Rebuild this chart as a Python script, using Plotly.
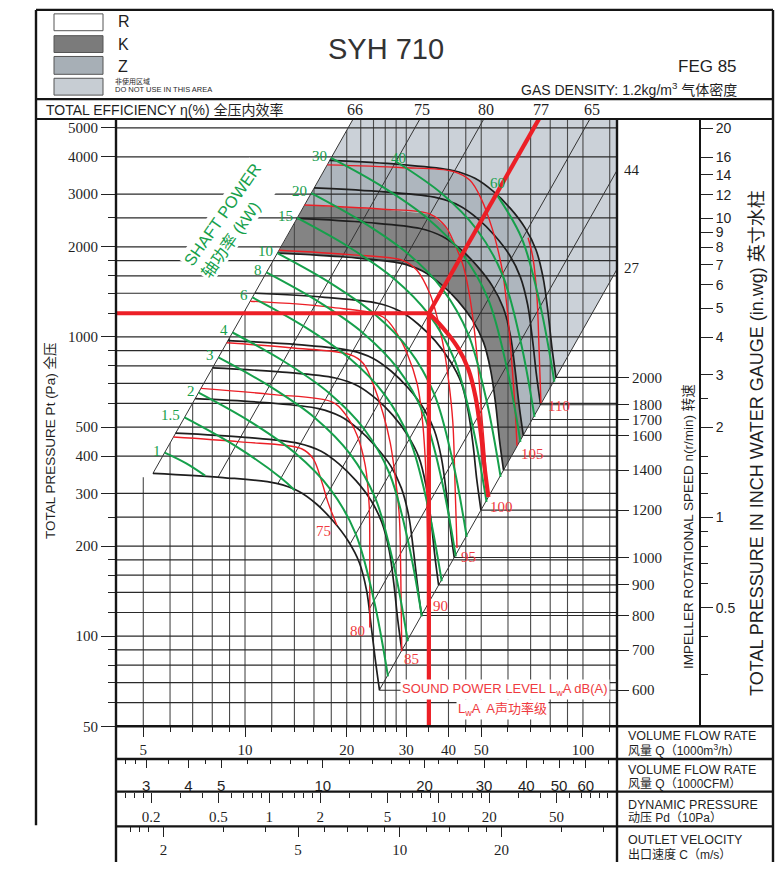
import math
import plotly.graph_objects as go

lg = math.log10

# ---------------- axis extents & scale conversions ----------------
q_lo, q_hi = 4.152, 126.1          # volume flow, 1000 m3/h
pt_lo, pt_hi = 50, 5355            # total pressure, Pa
cfm_factor = 1.699                 # 1000 m3/h per 1000 CFM
pd_q_unit = 11.8                   # Q giving Pd = 1 (10 Pa)
vel_q_unit = 2.87                  # Q giving C = 1 m/s
pa_per_inwg = 249.09
speed_ref_pt = 183.25              # Pt at end of 1000 r/min curve

# ---------------- tick values ----------------
q_major = [5, 10, 20, 30, 40, 50, 100]
q_minor = [6, 7, 8, 9, 12, 14, 16, 18, 22, 24, 26, 28, 35, 45, 60, 70, 80, 90, 120]
pt_major = [50, 100, 200, 300, 400, 500, 1000, 2000, 3000, 4000, 5000]
pt_minor = [60, 70, 80, 90, 120, 140, 160, 180, 250, 600, 700, 800, 900,
            1200, 1400, 1600, 1800, 2500]
cfm_major = [3, 4, 5, 10, 20, 30, 40, 50, 60]
cfm_minor = [2.6, 2.8, 3.5, 4.5, 6, 7, 8, 9, 12, 14, 16, 18, 22, 25, 35, 45, 55, 70]
pd_major = [0.2, 0.5, 1, 2, 5, 10, 20, 50]
pd_minor = [0.14, 0.16, 0.18, 0.3, 0.4, 0.6, 0.7, 0.8, 0.9, 1.2, 1.4, 1.6, 1.8,
            3, 4, 6, 7, 8, 9, 12, 14, 16, 18, 30, 40, 60, 70, 80, 90, 100]
vel_major = [2, 5, 10, 20]
vel_minor = [1.6, 1.7, 1.8, 3, 4, 6, 7, 8, 9, 12, 14, 16, 18, 30, 40]
inwg_major = [0.5, 1, 2, 3, 4, 5, 6, 7, 8, 9, 10, 12, 14, 16, 20]
inwg_minor = [0.3, 0.4, 0.6, 0.7, 0.8, 0.9, 1.2, 1.4, 1.6, 2.5]
speed_ticks = [600, 700, 800, 900, 1000, 1200, 1400, 1600, 1700, 1800, 2000]

# grid
grid_q = [5, 6, 7, 8, 9, 10, 12, 14, 16, 18, 20, 22, 24, 26, 28, 30, 35, 40, 45,
          50, 60, 70, 80, 90, 100, 120]
grid_pt = [60, 70, 80, 90, 100, 120, 140, 160, 180, 200, 250, 300, 400, 500, 600,
           700, 800, 900, 1000, 1200, 1400, 1600, 1800, 2000, 2500, 3000, 4000, 5000]
grid_q5_top = 340

# ---------------- efficiency lines (Pt ~ Q^2) ----------------
eff_labels = [66, 75, 80, 77, 65, 44, 27]
eff_q0 = [5.34, 8.32, 12.5, 16.67, 20.5, 23.3, 24.96]
eff_pt0 = [350, 340, 323, 270, 204, 123, 66]
eff_q1 = [20.9, 32.94, 50.9, 74.1, 104.9, 126.1, 126.1]
eff_pt1 = [5355, 5355, 5355, 5355, 5355, 3603, 1684]

# ---------------- speed curves (black) ----------------
n2000_q = [17.8, 28.7, 41.2, 47.9, 54.2, 60.8, 67.4, 72.6, 76.2, 78.8, 80.9, 83.2]
n2000_pt = [3890, 3770, 3600, 3390, 3070, 2700, 2315, 1957, 1581, 1211, 927, 733]
n1800_q = [16.0, 25.8, 37.1, 43.1, 48.8, 54.7, 60.7, 65.3, 68.6, 70.9, 72.8, 74.9]
n1800_pt = [3151, 3054, 2916, 2746, 2487, 2187, 1875, 1585, 1281, 981, 751, 594]
n1600_q = [14.2, 23.0, 33.0, 38.3, 43.4, 48.6, 53.9, 58.1, 61.0, 63.0, 64.7, 66.6]
n1600_pt = [2490, 2413, 2304, 2170, 1965, 1728, 1482, 1252, 1012, 775, 593, 469]
n1400_q = [12.5, 20.1, 28.8, 33.5, 37.9, 42.6, 47.2, 50.8, 53.3, 55.2, 56.6, 58.2]
n1400_pt = [1906, 1847, 1764, 1661, 1504, 1323, 1134, 959, 775, 593, 454, 359]
n1200_q = [10.7, 17.2, 24.7, 28.7, 32.5, 36.5, 40.4, 43.6, 45.7, 47.3, 48.5, 49.9]
n1200_pt = [1400, 1357, 1296, 1220, 1105, 972, 833, 705, 569, 436, 334, 264]
n1000_q = [8.9, 14.35, 20.6, 23.95, 27.1, 30.4, 33.7, 36.3, 38.1, 39.4, 40.45, 41.6]
n1000_pt = [972, 943, 900, 848, 768, 675, 579, 489, 395, 303, 232, 183]
n900_q = [8.01, 12.9, 18.5, 21.6, 24.4, 27.4, 30.3, 32.7, 34.3, 35.5, 36.4, 37.4]
n900_pt = [788, 763, 729, 686, 622, 547, 469, 396, 320, 245, 188, 148]
n800_q = [7.12, 11.5, 16.5, 19.2, 21.7, 24.3, 27.0, 29.0, 30.5, 31.5, 32.4, 33.3]
n800_pt = [622, 603, 576, 542, 491, 432, 370, 313, 253, 194, 148, 117]
n700_q = [6.23, 10.0, 14.4, 16.8, 19.0, 21.3, 23.6, 25.4, 26.7, 27.6, 28.3, 29.1]
n700_pt = [477, 462, 441, 415, 376, 331, 284, 240, 194, 148, 114, 89.8]
n600_q = [5.34, 8.61, 12.4, 14.4, 16.3, 18.2, 20.2, 21.8, 22.9, 23.6, 24.3, 25.0]
n600_pt = [350, 339, 324, 305, 276, 243, 208, 176, 142, 109, 83.4, 66.0]

# speed reference lines from the curve ends to the rotational-speed axis
speed_end_q = [24.96, 29.12, 33.28, 37.44, 41.6, 49.92, 58.24, 66.56, 70.72, 74.88, 83.2]
speed_end_pt = [66.0, 89.8, 117.3, 148.4, 183.3, 263.9, 359.2, 469.1, 529.6, 593.7, 733]

# ---------------- sound power level curves (red) ----------------
s75_q = [6.14, 9.67, 14.7, 15.9, 16.9, 17.6, 18.7]
s75_pt = [463, 446, 423, 392, 326, 280, 235]
s80_q = [7.40, 11.9, 18.2, 19.8, 21.5, 22.7, 23.3, 23.4, 23.4]
s80_pt = [673, 643, 605, 552, 467, 371, 274, 187, 107]
s85_q = [8.83, 13.6, 20.5, 22.4, 23.9, 25.6, 26.9, 27.8, 28.6, 28.9, 29.1]
s85_pt = [956, 920, 872, 815, 699, 556, 443, 344, 254, 161, 89]
s90_q = [10.36, 17.8, 25.6, 28.2, 30.2, 32.3, 33.4, 34.1, 34.6, 34.8]
s90_pt = [1317, 1258, 1166, 1024, 879, 699, 544, 401, 254, 126]
s95_q = [12.6, 20.5, 29.4, 32.3, 35.3, 37.0, 38.8, 40.1, 41.2, 41.8, 42.4]
s95_pt = [1950, 1884, 1800, 1668, 1389, 1166, 908, 705, 519, 329, 197]
s100_q = [15.0, 25.1, 35.3, 39.1, 41.8, 44.2, 46.0, 47.6, 48.9, 50.2, 51.3, 52.0]
s100_pt = [2760, 2676, 2575, 2350, 2034, 1732, 1410, 1080, 796, 544, 401, 291]
s105_q = [17.5, 28.7, 41.2, 46.3, 50.2, 53.8, 56.1, 58.0, 60.0, 61.7, 62.9, 63.8]
s105_pt = [3760, 3685, 3576, 3338, 2866, 2315, 1944, 1618, 1166, 796, 587, 433]
s110_q = [68.8, 71.1, 73.1, 74.1, 75.1]
s110_pt = [2145, 1841, 1357, 927, 601]
sound_labels = ["75", "80", "85", "90", "95", "100", "105", "110"]

# ---------------- shaft power curves (green, kW) ----------------
p1_q = [5.784, 6.7, 7.62]
p1_pt = [410.7, 378, 344]
p1_5_q = [6.621, 9.385, 12.81, 14.0]
p1_5_pt = [538.2, 431.4, 337.3, 308]
p2_q = [7.288, 10.33, 14.10, 17.87, 21.24, 24.08, 26.49]
p2_pt = [652.0, 522.6, 408.6, 310.3, 220.3, 131.6, 73.4]
p3_q = [8.342, 11.82, 16.14, 20.45, 24.31, 27.56, 30.32]
p3_pt = [854.3, 684.8, 535.4, 406.7, 288.7, 172.4, 96.2]
p4_q = [9.182, 13.015, 17.76, 22.51, 26.76, 30.34, 33.37]
p4_pt = [1034.9, 829.5, 648.6, 492.6, 349.7, 208.8, 116.5]
p6_q = [10.51, 14.90, 20.34, 25.77, 30.63, 34.72, 38.20]
p6_pt = [1356.1, 1087, 849.9, 645.5, 458.3, 273.7, 152.6]
p8_q = [11.568, 16.40, 22.38, 28.37, 33.71, 38.22, 42.05]
p8_pt = [1642.8, 1316.8, 1029.6, 782, 555.2, 331.5, 184.9]
p10_q = [12.461, 17.66, 24.11, 30.56, 36.31, 41.17, 45.29]
p10_pt = [1906.3, 1528, 1194.8, 907.4, 644.3, 384.7, 214.6]
p15_q = [14.265, 20.22, 27.60, 34.98, 41.57, 47.13, 51.85]
p15_pt = [2498, 2002.3, 1565.6, 1189.1, 844.2, 504.1, 281.2]
p20_q = [15.70, 22.26, 30.38, 38.50, 45.75, 51.87, 57.06]
p20_pt = [3026, 2425.6, 1896.6, 1440.5, 1022.7, 610.7, 340.6]
p30_q = [17.97, 25.48, 34.77, 44.07, 52.38, 59.38, 65.32]
p30_pt = [3965, 3178.4, 2485.2, 1887.5, 1340.1, 800.2, 446.3]
p40_q = [28.04, 38.27, 48.51, 57.65, 65.36, 71.90]
p40_pt = [3850.3, 3010.5, 2286.6, 1623.4, 969.4, 540.7]
p60_q = [55.53, 65.99, 74.81, 82.30]
p60_pt = [2996.2, 2127.2, 1270.2, 708.5]
power_labels = ["1", "1.5", "2", "3", "4", "6", "8", "10", "15", "20", "30", "40", "60"]

# ---------------- operating point ----------------
op_q, op_pt = 35.0, 1200
op_curve_q = [35.0, 38.4, 42.6, 45.8, 48.1, 49.8, 51.1, 52.5]
op_curve_pt = [1200, 1077, 923, 780, 630, 483, 370, 292]

# crossing of the 100 dB(A) curve with the 1600 r/min curve (zone K edge)
k_cross_q, k_cross_pt = 41.8, 2032

# ---------------- styling ----------------
W, H = 778, 870
def px(v): return v / W
def py(v): return 1 - v / H

SERIF = "Liberation Serif, Times New Roman, Noto Sans CJK SC, serif"
SANS = "Liberation Sans, Arial, Noto Sans CJK SC, sans-serif"
INK = "#1f1f1f"
RED = "#ec1f26"
RED_TXT = "#ef3a40"
GREEN = "#16a04b"
C_LIGHT = "#cbd1d8"
C_Z = "#aeb6be"
C_K = "#848484"

fig = go.Figure()

def add_line(q, pt, color, width, shape="spline"):
    fig.add_trace(go.Scatter(x=q, y=pt, mode="lines",
                             line=dict(color=color, width=width, shape=shape, smoothing=1.0),
                             hoverinfo="skip", showlegend=False))

def add_fill(q, pt, color):
    fig.add_trace(go.Scatter(x=q, y=pt, mode="lines", fill="toself", fillcolor=color,
                             line=dict(width=0, color=color), hoverinfo="skip",
                             showlegend=False))

# ---- shaded zones ----
light_q = n2000_q + [eff_q1[6], 140, 140, eff_q1[0], eff_q1[0]]
light_pt = n2000_pt + [eff_pt1[6], eff_pt1[6], 7000, 7000, eff_pt1[0]]
add_fill(light_q, light_pt, C_LIGHT)

z_q = n2000_q + n1600_q[::-1][:8] + [k_cross_q] + s100_q[:4][::-1]
z_pt = n2000_pt + n1600_pt[::-1][:8] + [k_cross_pt] + s100_pt[:4][::-1]
add_fill(z_q, z_pt, C_Z)

k_q = s100_q[:4] + [k_cross_q] + n1600_q[4:] + n1400_q[::-1]
k_pt = s100_pt[:4] + [k_cross_pt] + n1600_pt[4:] + n1400_pt[::-1]
add_fill(k_q, k_pt, C_K)

# ---- vertical grid ----
vx, vy = [], []
for q in grid_q:
    vx += [q, q, None]
    vy += [pt_lo, 7000, None]
add_line(vx, vy, "#4a4a4a", 1.1, "linear")

# white area left of the 66 % boundary (no vertical grid there)
mask_q = [3.0, eff_q0[0], eff_q0[0], eff_q1[0], eff_q1[0], 3.0]
mask_pt = [grid_q5_top, grid_q5_top, eff_pt0[0], eff_pt1[0], 7000, 7000]
add_fill(mask_q, mask_pt, "white")

# ---- horizontal grid ----
hx, hy = [], []
for p in grid_pt:
    hx += [3.0, 140, None]
    hy += [p, p, None]
add_line(hx, hy, "#2a2a2a", 1.2, "linear")

# ---- efficiency lines ----
ex, ey = [], []
for a, b, c, d in zip(eff_q0, eff_pt0, eff_q1, eff_pt1):
    ex += [a, c, None]
    ey += [b, d, None]
add_line(ex, ey, "#333333", 1.0, "linear")

# ---- speed reference lines ----
sx, sy = [], []
for a, b in zip(speed_end_q, speed_end_pt):
    sx += [a, 140, None]
    sy += [b, b, None]
add_line(sx, sy, "#2a2a2a", 1.1, "linear")

# ---- speed curves ----
for q, p in [(n600_q, n600_pt), (n700_q, n700_pt), (n800_q, n800_pt), (n900_q, n900_pt),
             (n1000_q, n1000_pt), (n1200_q, n1200_pt), (n1400_q, n1400_pt),
             (n1600_q, n1600_pt), (n1800_q, n1800_pt), (n2000_q, n2000_pt)]:
    add_line(q, p, INK, 1.7)

# ---- sound curves ----
sound_curves = [(s75_q, s75_pt), (s80_q, s80_pt), (s85_q, s85_pt), (s90_q, s90_pt),
                (s95_q, s95_pt), (s100_q, s100_pt), (s105_q, s105_pt), (s110_q, s110_pt)]
for q, p in sound_curves:
    add_line(q, p, RED, 1.4)

# ---- power curves ----
power_curves = [(p1_q, p1_pt), (p1_5_q, p1_5_pt), (p2_q, p2_pt), (p3_q, p3_pt),
                (p4_q, p4_pt), (p6_q, p6_pt), (p8_q, p8_pt), (p10_q, p10_pt),
                (p15_q, p15_pt), (p20_q, p20_pt), (p30_q, p30_pt), (p40_q, p40_pt),
                (p60_q, p60_pt)]
for q, p in power_curves:
    add_line(q, p, GREEN, 2.0)

# ---- operating point construction (thick red) ----
add_line([q_lo * 0.9, op_q], [op_pt, op_pt], RED, 4.2, "linear")
add_line([op_q, op_q], [op_pt, pt_lo], RED, 4.2, "linear")
add_line([op_q, eff_q1[3]], [op_pt, eff_pt1[3]], RED, 4.2, "linear")
add_line(op_curve_q, op_curve_pt, RED, 4.2)

# invisible anchors for the auxiliary axes
for xa, ya, xv, yv in [("x2", "y", 10, 100), ("x3", "y", 1, 100), ("x4", "y", 5, 100),
                       ("x", "y2", 10, 1000), ("x", "y3", 10, 1)]:
    fig.add_trace(go.Scatter(x=[xv], y=[yv], xaxis=xa, yaxis=ya, mode="markers",
                             marker=dict(opacity=0, size=1), hoverinfo="skip",
                             showlegend=False))

# ---------------- annotations ----------------
ann = []
def text(x, y, s, size, font=SANS, color=INK, xanchor="center", yanchor="middle",
         angle=0, bg=None, xref="paper", yref="paper", xshift=0, yshift=0, align="center"):
    d = dict(x=x, y=y, xref=xref, yref=yref, text=s, showarrow=False,
             font=dict(family=font, size=size, color=color), xanchor=xanchor,
             yanchor=yanchor, textangle=angle, xshift=xshift, yshift=yshift, align=align)
    if bg:
        d["bgcolor"] = bg
        d["borderpad"] = 1
    ann.append(d)

# header
text(px(116), py(22), "R", 16, xanchor="left")
text(px(116), py(45), "K", 16, xanchor="left")
text(px(116), py(67), "Z", 16, xanchor="left")
text(px(113), py(82), "非使用区域", 7, xanchor="left")
text(px(113), py(90.5), "DO NOT USE IN THIS AREA", 7.5, xanchor="left")
text(px(386), py(49), "SYH 710", 29, color="#333333")
text(px(739), py(67), "FEG 85", 17, xanchor="right")
text(px(739), py(90), "GAS DENSITY: 1.2kg/m<sup>3</sup> 气体密度", 14, xanchor="right")
text(px(44), py(111), "TOTAL EFFICIENCY η(%) 全压内效率", 14, xanchor="left")
for lbl, q in zip(eff_labels[:5], eff_q1[:5]):
    text(lg(q), py(111), str(lbl), 16, font=SERIF, xref="x", xshift=2)
text(px(622), py(172), str(eff_labels[5]), 15, font=SERIF, xanchor="left")
text(px(622), py(270), str(eff_labels[6]), 15, font=SERIF, xanchor="left")

# axis titles
text(px(50), py(445), "TOTAL PRESSURE Pt (Pa) 全压", 13.5, angle=-90)
text(px(688), py(532), "IMPELLER ROTATIONAL SPEED n(r/min) 转速", 13.5, angle=-90)
text(px(757), py(447), "TOTAL PRESSURE IN INCH WATER GAUGE (in.wg) 英寸水柱", 18, angle=-90)

# shaft power caption
text(px(231), py(223), "SHAFT POWER<br>轴功率 (kW)", 16.5, color=GREEN, angle=-55,
     bg="white", align="left")

# sound power caption
text(px(505), py(696), "SOUND POWER LEVEL L<sub>w</sub>A dB(A)", 13, color=RED_TXT, bg="white")
text(px(502), py(716), "L<sub>w</sub>A  A声功率级", 13, color=RED_TXT, bg="white")

# bottom-right scale names
for t1, t2, y1, y2 in [("VOLUME FLOW RATE", "风量 Q（1000m<sup>3</sup>/h）", 743, 757),
                       ("VOLUME FLOW RATE", "风量 Q（1000CFM）", 777, 791),
                       ("DYNAMIC PRESSURE", "动压 Pd（10Pa）", 812, 826),
                       ("OUTLET VELOCITY", "出口速度 C（m/s）", 848, 862)]:
    text(px(626), py(y1), t1, 12.5, xanchor="left")
    text(px(626), py(y2), t2, 12, xanchor="left")

# power labels
for lbl, (q, p) in zip(power_labels, power_curves):
    if lbl == "40":
        text(lg(q[0]), lg(p[0]), lbl, 15, font=SERIF, color=GREEN, xref="x", yref="y",
             xshift=2, yshift=4)
    elif lbl == "60":
        text(lg(q[0]), lg(p[0]), lbl, 15, font=SERIF, color=GREEN, xref="x", yref="y",
             xshift=1, yshift=11)
    else:
        text(lg(q[0]), lg(p[0]), lbl, 15, font=SERIF, color=GREEN, xref="x", yref="y",
             xanchor="right", xshift=-2, yshift=2)

# sound labels at curve ends
sound_off = [("center", -13, -6), ("center", -12, -4), ("left", 0, -8), ("left", 3, 0),
             ("left", 2, -9), ("left", 1, -10), ("left", 2, -8), ("left", 5, -3)]
for lbl, (q, p), (xa, dx, dy) in zip(sound_labels, sound_curves, sound_off):
    text(lg(q[-1]), lg(p[-1]), lbl, 15, font=SERIF, color=RED_TXT, xref="x", yref="y",
         xanchor=xa, xshift=dx, yshift=dy)

# ---------------- frame shapes ----------------
shapes = []
def seg(x0, y0, x1, y1, w=2.4, c="#151515"):
    shapes.append(dict(type="line", xref="paper", yref="paper", x0=px(x0), y0=py(y0),
                       x1=px(x1), y1=py(y1), line=dict(color=c, width=w)))

seg(36, 10, 773, 10)
seg(36, 10, 36, 833)
seg(773, 10, 773, 870)
seg(36, 100, 773, 100)
seg(36, 120, 773, 120, 2.0)
seg(116, 120, 116, 870)
seg(617, 120, 617, 870)
seg(700, 120, 700, 733, 2.0)
for yy in [733, 766, 799, 834]:
    seg(116, yy, 773, yy)

for (y0, y1, col) in [(14, 31, "white"), (36, 53, "#7b7b7b"), (57, 75, "#a7afb6"),
                      (79, 96, "#c7cdd3")]:
    shapes.append(dict(type="rect", xref="paper", yref="paper", x0=px(54), x1=px(103),
                       y0=py(y1), y1=py(y0), fillcolor=col,
                       line=dict(color="#555555", width=1)))

# ---------------- axes ----------------
def ticks_common(font, size):
    return dict(ticks="outside", tickcolor="#222", tickwidth=1, showgrid=False,
                zeroline=False, showline=False,
                tickfont=dict(family=font, size=size, color=INK))

def minor(vals, ln):
    return dict(tickmode="array", tickvals=vals, ticklen=ln, ticks="outside",
                tickcolor="#222", tickwidth=1, showgrid=False)

def fmt(v):
    return ("%g" % v)

layout = dict(
    width=W, height=H, margin=dict(l=0, r=0, t=0, b=0),
    paper_bgcolor="white", plot_bgcolor="white", showlegend=False,
    shapes=shapes, annotations=ann,
    xaxis=dict(domain=[px(116), px(617)], type="log", range=[lg(q_lo), lg(q_hi)],
               tickmode="array", tickvals=q_major, ticktext=[fmt(v) for v in q_major],
               ticklen=10, minor=minor(q_minor, 5), anchor="y", **ticks_common(SERIF, 15)),
    yaxis=dict(domain=[py(733), py(120)], type="log", range=[lg(pt_lo), lg(pt_hi)],
               tickmode="array", tickvals=pt_major, ticktext=[fmt(v) for v in pt_major],
               ticklen=14, minor=minor(pt_minor, 7), anchor="x", **ticks_common(SERIF, 15)),
    xaxis2=dict(overlaying="x", anchor="free", position=py(766), side="bottom", type="log",
                range=[lg(q_lo / cfm_factor), lg(q_hi / cfm_factor)],
                tickmode="array", tickvals=cfm_major, ticktext=[fmt(v) for v in cfm_major],
                ticklen=8, ticklabelstandoff=5, minor=minor(cfm_minor, 4),
                **ticks_common(SANS, 15)),
    xaxis3=dict(overlaying="x", anchor="free", position=py(799), side="bottom", type="log",
                range=[2 * lg(q_lo / pd_q_unit), 2 * lg(q_hi / pd_q_unit)],
                tickmode="array", tickvals=pd_major, ticktext=[fmt(v) for v in pd_major],
                ticklen=10, ticklabelstandoff=1, minor=minor(pd_minor, 5),
                **ticks_common(SERIF, 15)),
    xaxis4=dict(overlaying="x", anchor="free", position=py(834), side="bottom", type="log",
                range=[lg(q_lo / vel_q_unit), lg(q_hi / vel_q_unit)],
                tickmode="array", tickvals=vel_major, ticktext=[fmt(v) for v in vel_major],
                ticklen=10, minor=minor(vel_minor, 5), **ticks_common(SERIF, 15)),
    yaxis2=dict(overlaying="y", anchor="free", position=px(617), side="right", type="log",
                range=[lg(1000 * math.sqrt(pt_lo / speed_ref_pt)),
                       lg(1000 * math.sqrt(pt_hi / speed_ref_pt))],
                tickmode="array", tickvals=speed_ticks,
                ticktext=[fmt(v) for v in speed_ticks], ticklen=11,
                **ticks_common(SERIF, 15)),
    yaxis3=dict(overlaying="y", anchor="free", position=px(700), side="right", type="log",
                range=[lg(pt_lo / pa_per_inwg), lg(pt_hi / pa_per_inwg)],
                tickmode="array", tickvals=inwg_major,
                ticktext=[fmt(v) for v in inwg_major], ticklen=12,
                minor=minor(inwg_minor, 7), **ticks_common(SANS, 14)),
)
fig.update_layout(**layout)

fig.write_html("out.html", config={"displayModeBar": False, "staticPlot": True},
               post_script="document.body.style.margin='0';document.body.style.overflow='hidden';")
